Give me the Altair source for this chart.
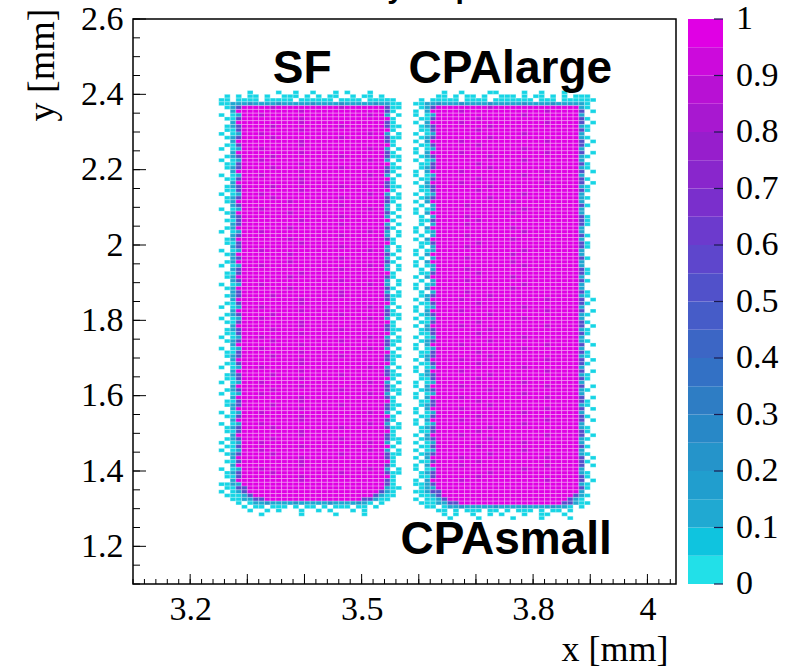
import altair as alt
import pandas as pd

# ---------------- data ----------------
# heat-map grid: column c covers x0 = 3.25 + c*0.01, row i covers y0 = 2.40 - i*0.01
X_START, X_BIN = 3.25, 0.01
Y_TOP, Y_BIN = 2.40, 0.01
# segments of one row: SF left fringe | SF body | SF right fringe | gap | CPA left fringe | CPA body | CPA right fringe | tail
SEG_W = [3, 27, 2, 2, 3, 27, 3, 3]
# efficiency levels of the cell codes ('.' = empty bin)
LEVEL = {"c": 0.02, "t": 0.12, "d": 0.22, "p": 0.55, "N": 0.9, "M": 1.0}

TOP_ROWS = [
    ("", "..c....c..c..c...c.c...c...", "", "", "", "..c..c....cc....c..c...c...", "", ""),
    (".c", "c.cc.c..ccc.c.c.cc..c.cc.c.", "", "", "", ".cc.c.cc.c..ccc.c.cc.c.c.cc", "c", ""),
    ("cc", "cccc.ccccc.cccccc.cccc.cccc", "c", "", ".c", "ccccc.cccc.ccccccc.ccc.cccc", "cc", ""),
    ("cct", "ttdttttdtttttdttttdtttttdtt", "cc", "", "cct", "tdtttdttttdtttttdttttdttttt", "c.", ""),
]
VARIANTS = {
    "a": (".ct", "pMMMMMNMMMMMMMMMMMNMMMMMMMp", "cc", "", ".ct", "pMMMMMMMMMNMMMMMMMMMMMMMMMt", "c", ""),
    "b": ("..t", "MMMMMMMMMMMNMMMMMMMMMMMMMMp", "c", "", "c.t", "MMMMMNMMMMMMMMMMMMMMNMMMMMp", ".c", ""),
    "c": ("c.c", "tMMMNMMMMMMMMMMMMMMMMMMNMMt", ".c", "", "c.c", "tMMMMMMMMMMMMMMMNMMMMMMMMMt", "", ""),
    "d": (".cc", "pMMMMMMMMMMNMMMMMMMMMMMMMMM", "c", "", ".cc", "pMMMMMMMNMMMMMMMMMMMMMMMMMp", "c", ""),
    "e": (".ct", "MMMMMMMMMNMMMMMMMMMMMMMMMMp", "c", "", "c.t", "MMMMMMMMMMMMMMNMMMMMMMMMMMt", "", ""),
    "f": ("..t", "pMMMMMMMMMMMMMMMMMNMMMMMMMt", ".c", "", ".c.", "tMMMMMNMMMMMMMMMMMMMMMMMMMp", "c", ""),
}
MID_SEQ = ("abcdbadcabdcbacdabcdbadca"
           "efcefdfecfedfcefecfdefcef"
           "abdcbacdbadcabcdabdcbadcb"
           "acbdabcdbcadbacdcabdbcadb")
BOTTOM_ROWS = [
    ("cct", "tMMMMMMMMMMMMMMMMMMMMMMMMMp", "c", "", "cct", "pMMMMMMMMMMMMMMMMMMMMMMMMMt", "c", ""),
    (".cc", "ppMMMMMMMMMMMMMMMMMMMMMMMMt", "cc", "", ".ct", "tMMMMMMMMMMMMMMMMMMMMMMMMMp", "c", ""),
    ("c.c", "tpMMMMMMMMMMMMMMMMMMMMMMMpt", "c", "", "cct", "ppMMMMMMMMMMMMMMMMMMMMMMMMt", "", ""),
    (".cc", "ctpMMMMMMMMMMMMMMMMMMMMMptc", "c", "", ".cc", "tpMMMMMMMMMMMMMMMMMMMMMMMpt", "c", ""),
    ("..c", "cttppMMMMMMMMMMMMMMMMMpptcc", "", "", "c.c", "ctpMMMMMMMMMMMMMMMMMMMMMptc", "", ""),
    ("", "c.cttdttttdtttttdttttdtc.c.", "", "", ".cc", "cttppMMMMMMMMMMMMMMMMMMpptc", "c", ""),
    ("", ".c.cc.ccc.c.cc.c.ccc.cc.c..", "", "", "..c", "c.cttdtttttdttttdttttdttc.c", "", ""),
    ("", "..c..c.c...c..c.c...c.c....", "", "", "", ".cc.c.ccc.cc.c.ccc.c.cc.c..", "", ""),
    ("", "....c......c.....c....c....", "", "", "", "..c.c..c..c.c...c..cc..c...", "", ""),
    ("", "", "", "", "", "...c....c.....c....c....c..", "", ""),
]

# annotations
ANN_TEXT = ["SF", "CPAlarge", "CPAsmall"]
ANN_X = [3.396, 3.760, 3.753]
ANN_Y = [2.467, 2.467, 1.218]
TITLE = ["Efficiency map"]

# axes
X_DOMAIN = [3.1, 4.05]
Y_DOMAIN = [1.1, 2.6]
X_LABELS = [3.2, 3.5, 3.8, 4.0]
Y_LABELS = [1.2, 1.4, 1.6, 1.8, 2.0, 2.2, 2.4, 2.6]
X_MAJOR = [3.2, 3.3, 3.4, 3.5, 3.6, 3.7, 3.8, 3.9, 4.0]
X_MINOR = [round(3.1 + 0.02 * i, 2) for i in range(48)]
Y_MAJOR = Y_LABELS
Y_MINOR = [round(1.1 + 0.05 * i, 2) for i in range(31)]

# colour palette (z axis)
CB_STOPS = [0.0, 0.1, 0.2, 0.3, 0.4, 0.5, 0.6, 0.7, 0.8, 0.9, 1.0]
CB_COLORS = ["#22E0E8", "#20AAD2", "#2596CA", "#2E80C4", "#3A6AC4", "#4C56C8",
             "#6440CC", "#7E2ACC", "#9A1CCC", "#BA10D4", "#E000E4"]
CB_BANDS = [0.0, 0.05, 0.1, 0.15, 0.2, 0.25, 0.3, 0.35, 0.4, 0.45,
            0.5, 0.55, 0.6, 0.65, 0.7, 0.75, 0.8, 0.85, 0.9, 0.95]
CB_TICKS = [0.0, 0.1, 0.2, 0.3, 0.4, 0.5, 0.6, 0.7, 0.8, 0.9, 1.0]
CB_LABELS = ["0", "0.1", "0.2", "0.3", "0.4", "0.5", "0.6", "0.7", "0.8", "0.9", "1"]

# ---------------- build tables ----------------
rows = TOP_ROWS + [VARIANTS[k] for k in MID_SEQ] + BOTTOM_ROWS
recs = []
for i, segs in enumerate(rows):
    line = "".join(s.ljust(w, ".")[:w] for s, w in zip(segs, SEG_W))
    y0 = round(Y_TOP - i * Y_BIN, 4)
    for c, ch in enumerate(line):
        if ch in LEVEL:
            x0 = round(X_START + c * X_BIN, 4)
            recs.append({"x0": x0, "x1": round(x0 + X_BIN, 4),
                         "y0": y0, "y1": round(y0 + Y_BIN, 4), "eff": LEVEL[ch]})
heat_df = pd.DataFrame(recs)

n_b = len(CB_BANDS)
cb_df = pd.DataFrame({"lo": CB_BANDS,
                      "hi": [b + 0.05 for b in CB_BANDS],
                      "eff": [k / (n_b - 1) for k in range(n_b)]})

W, H = 543, 565
FONT_SERIF = "Liberation Serif"
FONT_SANS = "Liberation Sans"

xs = alt.Scale(domain=X_DOMAIN, nice=False, zero=False)
ys = alt.Scale(domain=Y_DOMAIN, nice=False, zero=False)
cs = alt.Scale(domain=CB_STOPS, range=CB_COLORS)
cbs = alt.Scale(domain=[0, 1], nice=False, zero=False)

heat = alt.Chart(heat_df).mark_rect(stroke="white", strokeWidth=0.6, strokeOpacity=0.45).encode(
    x=alt.X("x0:Q", scale=xs,
            axis=alt.Axis(values=X_LABELS, format="~g", labelPadding=8,
                          title="x [mm]", titleAnchor="end", titleAlign="right",
                          titleX=W - 8, titleY=76, titleBaseline="alphabetic")),
    x2="x1:Q",
    y=alt.Y("y0:Q", scale=ys,
            axis=alt.Axis(values=Y_LABELS, format="~g", labelPadding=10,
                          title="y [mm]", titleAngle=-90, titleAlign="right",
                          titleBaseline="middle", titleX=-91, titleY=-11,
                          titleFontSize=38)),
    y2="y1:Q",
    color=alt.Color("eff:Q", scale=cs, legend=None),
)

xmaj = alt.Chart(pd.DataFrame({"v": X_MAJOR})).mark_rule(color="black", strokeWidth=1).encode(
    x=alt.X("v:Q", scale=xs), y=alt.value(H), y2=alt.value(H - 10))
xmin = alt.Chart(pd.DataFrame({"v": X_MINOR})).mark_rule(color="black", strokeWidth=1).encode(
    x=alt.X("v:Q", scale=xs), y=alt.value(H), y2=alt.value(H - 5))
ymaj = alt.Chart(pd.DataFrame({"v": Y_MAJOR})).mark_rule(color="black", strokeWidth=1).encode(
    y=alt.Y("v:Q", scale=ys, axis=None), x=alt.value(0), x2=alt.value(13))
ymin = alt.Chart(pd.DataFrame({"v": Y_MINOR})).mark_rule(color="black", strokeWidth=1).encode(
    y=alt.Y("v:Q", scale=ys, axis=None), x=alt.value(0), x2=alt.value(7))

ann = alt.Chart(pd.DataFrame({"t": ANN_TEXT, "x": ANN_X, "y": ANN_Y})).mark_text(
    font=FONT_SANS, fontWeight="bold", fontSize=46, color="black",
    align="center", baseline="middle").encode(
    x=alt.X("x:Q", scale=xs), y=alt.Y("y:Q", scale=ys, axis=None), text="t:N")

title = alt.Chart(pd.DataFrame({"t": TITLE})).mark_text(
    font=FONT_SANS, fontWeight="bold", fontSize=30, color="black",
    align="center", baseline="alphabetic").encode(
    x=alt.value(235), y=alt.value(-21), text="t:N")

cb = alt.Chart(cb_df).mark_rect().encode(
    x=alt.value(555), x2=alt.value(590),
    y=alt.Y("lo:Q", scale=cbs, axis=None), y2="hi:Q",
    color=alt.Color("eff:Q", scale=cs, legend=None))
cbt = alt.Chart(pd.DataFrame({"v": CB_TICKS})).mark_rule(color="#1c1c50", strokeWidth=1.2).encode(
    y=alt.Y("v:Q", scale=cbs, axis=None), x=alt.value(581), x2=alt.value(590))
cbl = alt.Chart(pd.DataFrame({"v": CB_TICKS, "t": CB_LABELS})).mark_text(
    font=FONT_SERIF, fontSize=34, color="black", align="left", baseline="middle").encode(
    y=alt.Y("v:Q", scale=cbs, axis=None), x=alt.value(603), text="t:N")

chart = alt.layer(heat, xmin, xmaj, ymin, ymaj, ann, title, cb, cbt, cbl).resolve_scale(
    y="independent"
).properties(
    width=W, height=H,
    autosize=alt.AutoSizeParams(type="none"),
    padding={"left": 133, "top": 19, "right": 124, "bottom": 84},
).configure_view(
    stroke="black", strokeWidth=1.5
).configure_axis(
    labelFont=FONT_SERIF, titleFont=FONT_SERIF, labelFontSize=34, titleFontSize=36,
    labelColor="black", titleColor="black", titleFontWeight="normal",
    grid=False, domain=False, ticks=False,
)

chart.save("out.html", embed_options={"renderer": "svg", "actions": False})
